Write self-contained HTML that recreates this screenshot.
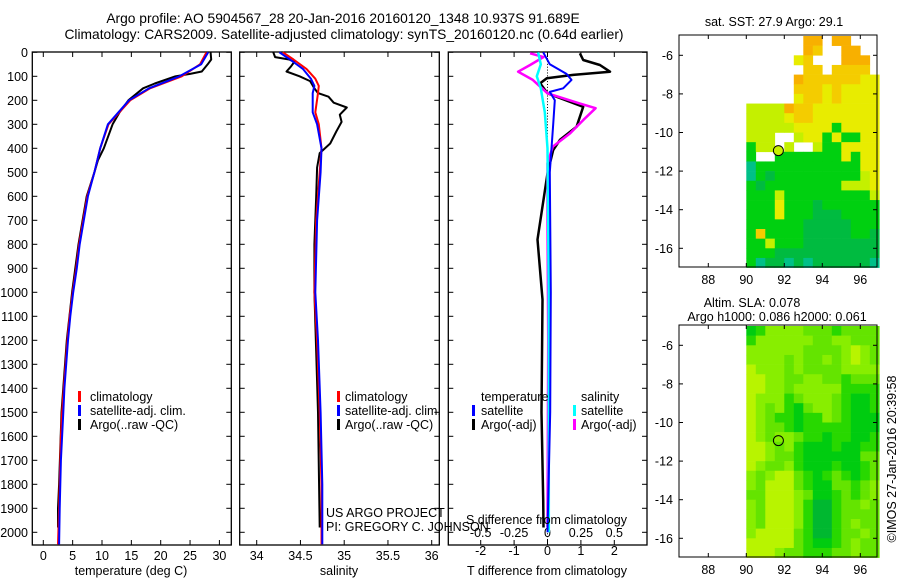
<!DOCTYPE html>
<html><head><meta charset="utf-8">
<style>
html,body{margin:0;padding:0;background:#fff;}
svg{display:block;font-family:"Liberation Sans",sans-serif;}
text{fill:#000;}
</style></head>
<body>
<svg id="fig" width="900" height="580" viewBox="0 0 900 580" xmlns="http://www.w3.org/2000/svg">
<text x="343" y="23" font-size="13.8" text-anchor="middle">Argo profile: AO 5904567_28 20-Jan-2016 20160120_1348 10.937S 91.689E</text>
<text x="344" y="39" font-size="13.8" text-anchor="middle">Climatology: CARS2009. Satellite-adjusted climatology: synTS_20160120.nc (0.64d earlier)</text>
<g id="g1"></g>
<g id="g2"></g>
<g id="g3"></g>
<g id="m1"></g>
<g id="m2"></g>
<text transform="translate(896,459) rotate(-90)" font-size="12.5" text-anchor="middle">©IMOS 27-Jan-2016 20:39:58</text>
</svg>
<script>
// ---- profile data ----
const tClimDepth=[0,50,100,150,200,300,400,500,600,700,800,900,1000,1100,1200,1300,1400,1500,1600,1700,1800,1900,2050];
const tClimVal=[27.8,26.7,23.6,18.2,14.8,11.1,9.7,8.7,7.5,6.8,6.1,5.6,5.0,4.5,4.1,3.8,3.5,3.2,3.0,2.9,2.8,2.7,2.5];
const tSatVal=[28.1,26.9,23.2,18.0,14.6,11.0,9.7,8.7,7.6,6.9,6.2,5.7,5.1,4.6,4.2,3.9,3.6,3.4,3.2,3.0,2.9,2.8,2.7];
const tArgoDepth=[0,30,50,80,90,100,130,150,200,250,300,400,450,500,600,800,1000,1200,1500,1800,1900,1980];
const tArgoVal=[28.5,28.6,28.0,27.0,25.0,22.5,19.0,17.0,14.5,13.0,11.8,10.3,9.3,8.7,7.4,6.0,4.9,4.0,3.1,2.7,2.5,2.5];
const sClimDepth=[0,30,70,110,140,170,250,300,400,500,700,1000,1200,1500,1800,2050];
const sClimVal=[34.30,34.42,34.57,34.67,34.71,34.70,34.67,34.71,34.74,34.72,34.68,34.66,34.69,34.72,34.74,34.74];
const sSatVal=[34.26,34.38,34.53,34.62,34.66,34.64,34.64,34.69,34.74,34.73,34.69,34.67,34.70,34.73,34.75,34.75];
const sArgoDepth=[0,20,30,40,60,80,100,120,150,170,185,210,230,260,290,330,380,420,480,600,800,1000,1500,1980];
const sArgoVal=[34.19,34.21,34.37,34.43,34.39,34.34,34.49,34.61,34.66,34.70,34.82,34.88,35.03,34.95,34.97,34.91,34.84,34.72,34.69,34.68,34.66,34.66,34.70,34.72];
const dTArgoDepth=[4,32,53,81,94,108,129,171,227,310,365,407,504,780,1030,1500,1865,1980];
const dTArgoVal=[0.97,1.07,1.57,1.87,0.77,-0.02,-0.22,0,1.07,0.87,0.37,0.17,0,-0.3,-0.15,-0.18,-0.13,-0.12];
const dSArgoDepth=[4,20,53,81,115,171,213,233,281,337,393,462,700,1200,1980];
const dSArgoVal=[-0.13,-0.03,-0.13,-0.22,-0.11,0,0.24,0.36,0.27,0.17,0.04,0,0,0.005,0];
const dTSatDepth=[0,50,90,115,150,165,200,300,500,1000,1500,2000];
const dTSatVal=[-0.13,0.07,0.57,0.72,0.47,0.07,0.22,0.17,0.07,0.1,0.08,0];
const dSSatDepth=[0,50,100,150,250,400,1000,2000];
const dSSatVal=[-0.07,-0.05,-0.08,-0.05,-0.02,0,0.01,0.01];
const depthTicks=[0,100,200,300,400,500,600,700,800,900,1000,1100,1200,1300,1400,1500,1600,1700,1800,1900,2000];
const tTicks=[0,5,10,15,20,25,30];
const sTicks=[34,34.5,35,35.5,36];
const sTickLabels=["34","34.5","35","35.5","36"];
const dTTicks=[-2,-1,0,1,2];
const dSTicks=[-0.5,-0.25,0,0.25,0.5];
const dSTickLabels=["-0.5","-0.25","0","0.25","0.5"];
// ---- map data (0.5 deg cells, lon 90..97, lat -5..-17) ----
const sstRows=["......oo.oo...","......oy..oo..",".....Yy...ooo.","......yy.yyyy.",".....oyyyyyyYY",".....yyyYyYYYY",".....YyyYyYYYY","lllloyyYYYYYYY","llllYyyYYYYYYY","lllllYYYYgYYYY","lll..lYYgYggYY","gll.l..lggYYYY","g..gggggggYgYY","tgggggggggggYY","tgGggggggggglY","gGgggggggglllY","ggglgggggggggl","gggYgggGgggggg","gggYgggGGGgggg","ggggggGGGGGggg","gyggggGGGGGggG","gglgggGGGGGGGG","gggGGGGGGGGGGG","gtGGtGtGGGGGGt"];
const slaRows=["GgllllLLLgLLLL","gllllllLLllLLL","llllllLLLLlYlL","llllLlLLlLlYlL","YlllLlLLLLllll","YYllLLllLLgLLL","YYllLlllllgggg","YlllgLlllLgGGg","YlLlgGLllLgGGg","YlLggGgglLgGGG","YlLLgGgggggGGG","YlLllLggGggGGg","YYlLlgGGGgGGgg","YYlLLgGGGGGGLL","YlLLlgGGGgGGgL","lLlYYLgGgLgGgL","lLYYYLgGGLLgLl","LLYYYlLGGgLgLl","lLYYYlgDDgLLlL","lLYYYlgDDgLLLL","lLYYYlgDDgLlLL","lYYYYLgDDgLLlL","YYYYYLgGGgLlLL","YYYlLLgggLLlLL"];
const argoLon=91.689, argoLat=-10.937;
const lonTicks=[88,90,92,94,96];
const latTicks=[-6,-8,-10,-12,-14,-16];

const NS="http://www.w3.org/2000/svg";
function mk(parent,tag,attrs){const e=document.createElementNS(NS,tag);for(const k in attrs)e.setAttribute(k,attrs[k]);parent.appendChild(e);return e;}
const Y=d=>52.3+d*0.24;
const TOP=52,BOT=545;

function frame(g,x0,x1){
  const r=mk(g,'rect',{x:x0,y:TOP,width:x1-x0,height:BOT-TOP,fill:'none',stroke:'#000','stroke-width':1.3});
  
  
  depthTicks.forEach(d=>{
    mk(g,'line',{x1:x0,x2:x0+5,y1:Y(d),y2:Y(d),stroke:'#000'});
    mk(g,'line',{x1:x1,x2:x1-5,y1:Y(d),y2:Y(d),stroke:'#000'});
  });
}
function xticks(g,vals,labels,fx,ly){
  vals.forEach((v,i)=>{
    const x=fx(v);
    mk(g,'line',{x1:x,x2:x,y1:BOT,y2:BOT-5,stroke:'#000'});
    mk(g,'line',{x1:x,x2:x,y1:TOP,y2:TOP+5,stroke:'#000'});
    if(ly){const t=mk(g,'text',{x:x,y:ly,'font-size':12.5,'text-anchor':'middle'});t.textContent=labels[i];
      
      }
  });
}
function line(g,depths,vals,fx,color,w,name){
  const pts=depths.map((d,i)=>fx(vals[i]).toFixed(1)+','+Y(d).toFixed(1)).join(' ');
  const p=mk(g,'polyline',{points:pts,fill:'none',stroke:color,'stroke-width':w,'stroke-linejoin':'round'});
  
  
}
function txt(g,x,y,s,name,anchor,size){const t=mk(g,'text',{x:x,y:y,'font-size':size||12.5,'text-anchor':anchor||'start'});t.textContent=s;
  
  return t;}
function legendMark(g,x,y,color){mk(g,'rect',{x:x,y:y-10,width:3,height:11,fill:color});}

// panel 1
const g1=document.getElementById('g1');
const fT=t=>43.3+t*5.87;
frame(g1,32.3,231.3);
depthTicks.forEach(d=>{const t=txt(g1,28,Y(d)+4.5,String(d),'y-tick-label','end');});
xticks(g1,tTicks,tTicks.map(String),fT,560);
line(g1,tArgoDepth,tArgoVal,fT,'#000',2,'temp-argo-line');
line(g1,tClimDepth,tClimVal,fT,'#f00',2,'temp-climatology-line');
line(g1,tClimDepth,tSatVal,fT,'#00f',2,'temp-satellite-line');
txt(g1,131,575,'temperature (deg C)','x-axis-title','middle');
legendMark(g1,78,401,'#f00');txt(g1,90,401,'climatology','legend-climatology');
legendMark(g1,78,415,'#00f');txt(g1,90,415,'satellite-adj. clim.','legend-satellite');
legendMark(g1,78,429,'#000');txt(g1,90,429,'Argo(..raw -QC)','legend-argo');

// panel 2
const g2=document.getElementById('g2');
const fS=s=>256.7+(s-34)*87.5;
frame(g2,239.7,439.3);
xticks(g2,sTicks,sTickLabels,fS,560);
line(g2,sArgoDepth,sArgoVal,fS,'#000',2,'sal-argo-line');
line(g2,sClimDepth,sClimVal,fS,'#f00',2,'sal-climatology-line');
line(g2,sClimDepth,sSatVal,fS,'#00f',2,'sal-satellite-line');
txt(g2,339,575,'salinity','x-axis-title','middle');
legendMark(g2,337,401,'#f00');txt(g2,345,401,'climatology','legend-climatology');
legendMark(g2,337,415,'#00f');txt(g2,345,415,'satellite-adj. clim.','legend-satellite');
legendMark(g2,337,429,'#000');txt(g2,345,429,'Argo(..raw -QC)','legend-argo');
txt(g2,326,517,'US ARGO PROJECT','project-label');
txt(g2,326,531,'PI: GREGORY C. JOHNSON','pi-label');

// panel 3
const g3=document.getElementById('g3');
const fdT=v=>547.5+v*33.4, fdS=v=>547.5+v*133.6;
frame(g3,448.3,647);
xticks(g3,dTTicks,dTTicks.map(String),fdT,555);
dSTicks.forEach((v,i)=>txt(g3,fdS(v),537,dSTickLabels[i],'s-tick-label','middle'));
for(let d=0;d<2050;d+=12){mk(g3,'rect',{x:547,y:Y(d),width:1,height:1,fill:'#000'});}
line(g3,dTArgoDepth,dTArgoVal,fdT,'#000',2.5,'dT-argo-line');
line(g3,dSArgoDepth,dSArgoVal,fdS,'#f0f',2.5,'dS-argo-line');
line(g3,dSSatDepth,dSSatVal,fdS,'#0ff',2.5,'dS-satellite-line');
line(g3,dTSatDepth,dTSatVal,fdT,'#00f',2,'dT-satellite-line');
txt(g3,481,401,'temperature','legend-temperature-header');
txt(g3,581,401,'salinity','legend-salinity-header');
legendMark(g3,472,415,'#00f');txt(g3,481,415,'satellite','legend-t-satellite');
legendMark(g3,472,429,'#000');txt(g3,481,429,'Argo(-adj)','legend-t-argo');
legendMark(g3,573,415,'#0ff');txt(g3,581,415,'satellite','legend-s-satellite');
legendMark(g3,573,429,'#f0f');txt(g3,581,429,'Argo(-adj)','legend-s-argo');
txt(g3,466,524,'S difference from climatology','s-axis-title');
txt(g3,547,575,'T difference from climatology','x-axis-title','middle');

// maps
const mapX0=679,mapX1=877;
const fLon=l=>746.3+(l-90)*19;
function map(gid,top,rows,colors,title1,title2,filledCircle){
  const g=document.getElementById(gid);
  const fLat=la=>top+20.3+(-6-la)*19.3;
  rows.forEach((row,r)=>{
    for(let c=0;c<row.length;c++){
      const col=colors[row[c]]; if(!col) continue;
      const x0=fLon(90+c*0.5),x1=fLon(90+(c+1)*0.5);
      const y0=fLat(-5-r*0.5),y1=fLat(-5-(r+1)*0.5);
      const cell=mk(g,'rect',{x:x0,y:Math.max(y0,top),width:x1-x0+0.3,height:y1-Math.max(y0,top)+0.3,fill:col});
      
      
    }
  });
  const bottom=top+232;
  mk(g,'rect',{x:mapX0,y:top,width:mapX1-mapX0,height:bottom-top,fill:'none',stroke:'#000','stroke-width':1});
  lonTicks.forEach(l=>{const x=fLon(l);
    mk(g,'line',{x1:x,x2:x,y1:bottom,y2:bottom-4,stroke:'#000'});
    mk(g,'line',{x1:x,x2:x,y1:top,y2:top+4,stroke:'#000'});
    txt(g,x,bottom+17,String(l),'lon-tick-label','middle');});
  latTicks.forEach(la=>{const y=fLat(la);
    mk(g,'line',{x1:mapX0,x2:mapX0+4,y1:y,y2:y,stroke:'#000'});
    mk(g,'line',{x1:mapX1,x2:mapX1-4,y1:y,y2:y,stroke:'#000'});
    txt(g,673,y+4.5,String(la),'lat-tick-label','end');});
  const c=mk(g,'circle',{cx:fLon(argoLon),cy:fLat(argoLat),r:5,fill:filledCircle||'none',stroke:'#000','stroke-width':1});
  
  
  if(title2){txt(g,752,top-18,title1,'map-title','middle');txt(g,777,top-4,title2,'map-subtitle','middle');}
  else txt(g,774,top-9,title1,'map-title','middle');
}
map('m1',35,sstRows,{o:'#f8b000',y:'#f4cc00',Y:'#e8ec00',l:'#c4f000',g:'#00d010',G:'#00bb40',t:'#00c088'},'sat. SST: 27.9 Argo: 29.1',null,'#c8f000');
map('m2',325,slaRows,{Y:'#b8f400',l:'#88ee00',L:'#64e400',g:'#28d800',G:'#00cc10',D:'#00b830'},'Altim. SLA: 0.078','Argo h1000: 0.086 h2000: 0.061',null);
</script>
</body></html>
